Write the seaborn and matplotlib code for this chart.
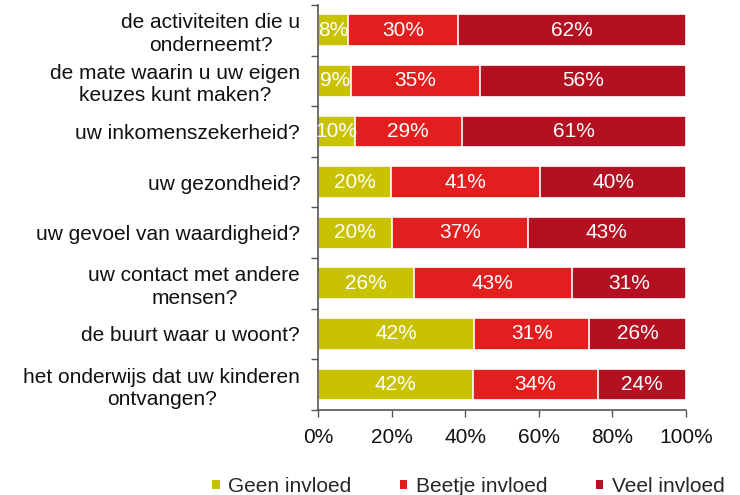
import numpy as np
import pandas as pd
import matplotlib
matplotlib.use("Agg")
import matplotlib.pyplot as plt
import seaborn as sns
from matplotlib.patches import Patch

categories = [
    "de activiteiten die u\nonderneemt?",
    "de mate waarin u uw eigen\nkeuzes kunt maken?",
    "uw inkomenszekerheid?",
    "uw gezondheid?",
    "uw gevoel van waardigheid?",
    "uw contact met andere\nmensen?",
    "de buurt waar u woont?",
    "het onderwijs dat uw kinderen\nontvangen?",
]
geen = [8, 9, 10, 20, 20, 26, 42, 42]
beetje = [30, 35, 29, 41, 37, 43, 31, 34]
veel = [62, 56, 61, 40, 43, 31, 26, 24]
series_names = ["Geen invloed", "Beetje invloed", "Veel invloed"]
colors = ["#C9C200", "#E31E1E", "#B31022"]
xticks = [0, 20, 40, 60, 80, 100]

sns.set_theme(style="white")
plt.rcParams["font.family"] = ["Liberation Sans", "DejaVu Sans"]

FS = 15

vals = np.array([geen, beetje, veel], dtype=float)
totals = vals.sum(axis=0)
share = vals / totals * 100
cum = np.cumsum(share, axis=0)

fig = plt.figure(figsize=(7.4, 4.95), dpi=100)
ax = fig.add_axes([0.43, 0.172, 0.497, 0.818])

for i in reversed(range(3)):
    df = pd.DataFrame({"cat": categories, "val": cum[i]})
    sns.barplot(data=df, x="val", y="cat", orient="h", color=colors[i],
                width=0.63, edgecolor="white", linewidth=1.2, saturation=1,
                ax=ax)

for j in range(len(categories)):
    start = 0
    for i in range(3):
        w = share[i, j]
        ax.text(start + w / 2, j, f"{int(vals[i, j])}%", ha="center",
                va="center", color="white", fontsize=FS)
        start += w

ax.set_xlim(0, 100)
ax.set_ylim(len(categories) - 0.5, -0.5)
ax.set_xlabel("")
ax.set_ylabel("")
ax.set_xticks(xticks)
ax.set_xticklabels([f"{t}%" for t in xticks], fontsize=FS, color="#111111")
ax.set_yticks(np.arange(-0.5, len(categories), 1.0))
ax.set_yticklabels([])
ax.set_yticks(np.arange(len(categories)), minor=True)
ax.set_yticklabels(categories, minor=True, fontsize=FS, color="#111111",
                   multialignment="center", linespacing=1.22)
ax.tick_params(axis="y", which="major", direction="out", length=5, width=1,
               color="#555555", left=True)
ax.tick_params(axis="y", which="minor", length=0, pad=13)
ax.tick_params(axis="x", direction="out", length=5, width=1, color="#555555",
               bottom=True, pad=8)
for s in ["top", "right"]:
    ax.spines[s].set_visible(False)
for s in ["left", "bottom"]:
    ax.spines[s].set_color("#555555")
    ax.spines[s].set_linewidth(1.2)

handles = [Patch(facecolor=c, edgecolor="none") for c in colors]
fig.legend(handles, series_names, loc="lower center", ncol=3,
           bbox_to_anchor=(0.633, -0.04), frameon=False, fontsize=FS,
           handlelength=0.35, handleheight=0.35, columnspacing=2.35,
           handletextpad=0.4)

fig.savefig("out.png", dpi=100)
